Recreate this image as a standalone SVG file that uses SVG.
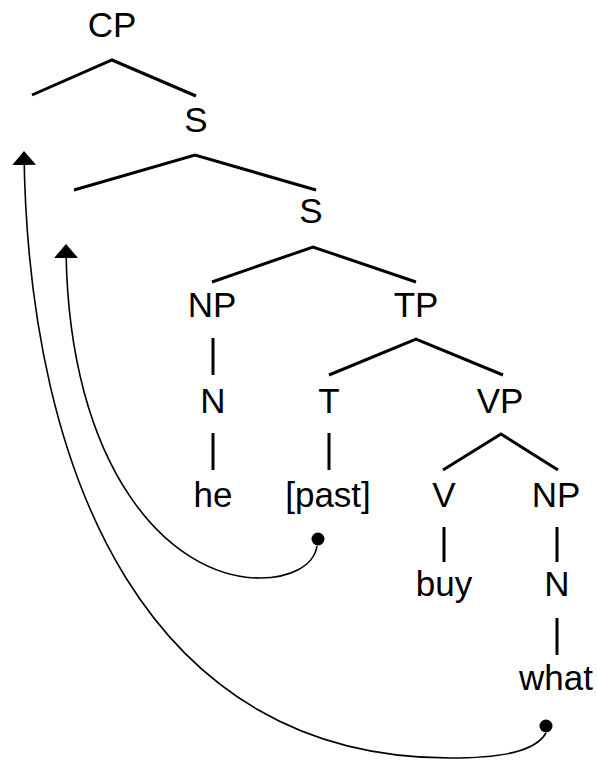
<svg xmlns="http://www.w3.org/2000/svg" width="597" height="760" viewBox="0 0 597 760">
<defs>
<style>
.lbl{font-family:"Liberation Sans",Arial,sans-serif;font-size:35px;fill:#000;text-anchor:middle}
.br{stroke:#000;stroke-width:3;fill:none;stroke-linecap:butt}
.mv{stroke:#000;stroke-width:1.6;fill:none}
</style>
<marker id="ah" markerWidth="14" markerHeight="24" refX="13" refY="12" orient="auto" markerUnits="userSpaceOnUse" viewBox="0 0 14 24">
<path d="M0,0 L14,12 L0,24 Z" fill="#000"/>
</marker>
</defs>
<rect width="597" height="760" fill="#fff"/>
<g id="tree-lines">
<polyline class="br" points="32,95 112,60 196,96"/>
<polyline class="br" points="74,190 195,155 316,190"/>
<polyline class="br" points="212,282 313,247 416,282"/>
<polyline class="br" points="329,375 416,339 503,375"/>
<polyline class="br" points="443,470 501,434 558,470"/>
<line class="br" x1="213" y1="338" x2="213" y2="375"/>
<line class="br" x1="213" y1="433" x2="213" y2="470"/>
<line class="br" x1="329" y1="433" x2="329" y2="470"/>
<line class="br" x1="444" y1="527" x2="444" y2="562"/>
<line class="br" x1="557" y1="527" x2="557" y2="562"/>
<line class="br" x1="557" y1="618" x2="557" y2="655"/>
</g>
<g id="n-cp"><text class="lbl" x="112" y="37">CP</text></g>
<g id="n-s1"><text class="lbl" x="196" y="132">S</text></g>
<g id="n-s2"><text class="lbl" x="311" y="223">S</text></g>
<g id="n-np1"><text class="lbl" x="212" y="317">NP</text></g>
<g id="n-tp"><text class="lbl" x="416" y="317">TP</text></g>
<g id="n-n1"><text class="lbl" x="213" y="413">N</text></g>
<g id="n-t"><text class="lbl" x="329" y="413">T</text></g>
<g id="n-vp"><text class="lbl" x="500" y="413">VP</text></g>
<g id="n-he"><text class="lbl" x="213" y="507">he</text></g>
<g id="n-past"><text class="lbl" x="328" y="507">[past]</text></g>
<g id="n-v"><text class="lbl" x="444" y="507">V</text></g>
<g id="n-np2"><text class="lbl" x="556" y="507">NP</text></g>
<g id="n-buy"><text class="lbl" x="444" y="596">buy</text></g>
<g id="n-n2"><text class="lbl" x="557" y="596">N</text></g>
<g id="n-what"><text class="lbl" x="556" y="690">what</text></g>
<g id="connectors">
<path class="mv" d="M546,733 C535,752 500,758 450,758 C150,758 28,480 24,152" marker-end="url(#ah)"/>
<path class="mv" d="M317,546 C314,566 290,578 260,578 C170,578 67,470 66,245" marker-end="url(#ah)"/>
<circle cx="546" cy="726" r="6.5" fill="#000"/>
<circle cx="318" cy="539" r="6.5" fill="#000"/>
</g>
</svg>
